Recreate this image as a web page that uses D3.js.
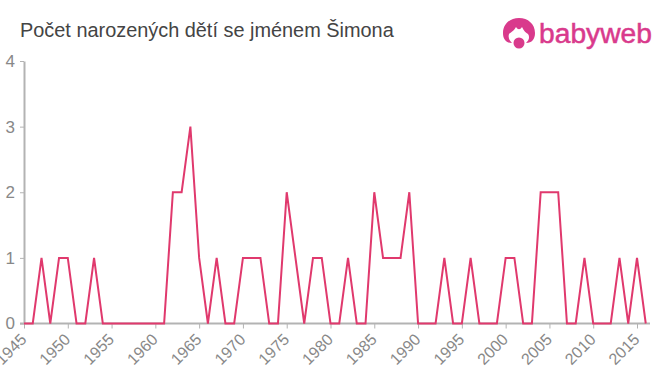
<!DOCTYPE html>
<html lang="cs">
<head>
<meta charset="utf-8"/>
<style>
	body { margin: 0; background: #fff; }
	svg { display: block; }
	text { font-family: "Liberation Sans", Arial, sans-serif; }
</style>
</head>
<body>
<svg id="chart" width="660" height="375"></svg>
<script src="https://d3js.org/d3.v7.min.js"></script>
<script>
	let titleText = "Počet narozených dětí se jménem Šimona"
	let years = d3.range(1945, 2017)
	let counts = [0,0,1,0,1,1,0,0,1,0, 0,0,0,0,0,0,0,2,2,3, 1,0,1,0,0,1,1,1,0,0, 2,1,0,1,1,0,0,1,0,0,
		2,1,1,1,2,0,0,0,1,0, 0,1,0,0,0,1,1,0,0,2, 2,2,0,0,1,0,0,0,1,0, 1,0]
	let xTicks = d3.range(1945, 2016, 5)
	let yTicks = [0, 1, 2, 3, 4]

	let svg = d3.select("svg")
	let data = years.map((y, i) => ({year: y, count: counts[i]}))

	// plot area
	let xScale = d3.scaleLinear().domain([1945, 2015]).range([24, 637])
	let yScale = d3.scaleLinear().domain([0, 4]).range([323.5, 61])
	let xEnd = 650

	svg.append("text")
		.attr("x", 20)
		.attr("y", 37)
		.attr("font-size", 19.9)
		.attr("fill", "#444")
		.text(titleText)

	//Y-AXIS
	let yAxis = svg.append("g")
		.attr("id", "y-axis")
		.attr("transform", "translate(24,0)")
		.call(d3.axisLeft(yScale).tickValues(yTicks).tickFormat(d3.format("d")).tickSize(4).tickPadding(5).tickSizeOuter(0))
	yAxis.select(".domain").attr("stroke", "#b3b3b3").attr("stroke-width", 2)
	yAxis.selectAll(".tick line").attr("stroke", "#b3b3b3")
	yAxis.selectAll("text").attr("font-size", 17).attr("fill", "#888").attr("font-family", "Liberation Sans")

	//X-AXIS
	let xAxis = svg.append("g")
		.attr("id", "x-axis")
		.attr("transform", "translate(0,323.5)")
		.call(d3.axisBottom(xScale).tickValues(xTicks).tickFormat(d3.format("d")).tickSize(5).tickSizeOuter(0))
	xAxis.select(".domain").remove()
	xAxis.append("line")
		.attr("x1", 20).attr("x2", xEnd)
		.attr("stroke", "#b3b3b3").attr("stroke-width", 2)
	xAxis.selectAll(".tick line").attr("stroke", "#b3b3b3")
	xAxis.selectAll(".tick text")
		.attr("font-size", 16)
		.attr("font-family", "Liberation Sans")
		.attr("fill", "#888")
		.attr("text-anchor", "end")
		.attr("dy", null)
		.attr("transform", "translate(3,17) rotate(-45)")
		.attr("y", 0)

	let line = d3.line().x(d => xScale(d.year)).y(d => yScale(d.count))
	svg.append("path")
		.datum(data)
		.attr("fill", "none")
		.attr("stroke", "#e0396d")
		.attr("stroke-width", 2)
		.attr("stroke-linejoin", "miter")
		.attr("d", line)

	// logo
	let logo = svg.append("g").attr("transform", "translate(519,33)")
	logo.append("path")
		.attr("fill", "#d93a8c")
		.attr("d", "M-7,10 C-13,10 -16,6 -16,0 C-16,-9 -9,-15 0,-15 C9,-15 16,-9 16,0 C16,6 13,10 7,10 C10,7 11,4 9,1 C7,0 5,-2 3,-6 C1,-3 -1,-3 -3,-6 C-5,-2 -8,-1 -10,1 C-11,4 -10,7 -7,10 Z")
	logo.append("circle").attr("cx", 0).attr("cy", 10).attr("r", 5.5).attr("fill", "#d93a8c")
	svg.append("text")
		.attr("x", 539)
		.attr("y", 43)
		.attr("font-family", "Noto Sans")
		.attr("font-size", 27)
		.attr("stroke", "#d93a8c")
		.attr("stroke-width", 0.5)
		.attr("textLength", 113)
		.attr("lengthAdjust", "spacingAndGlyphs")
		.attr("fill", "#d93a8c")
		.text("babyweb")
</script>
</body>
</html>
